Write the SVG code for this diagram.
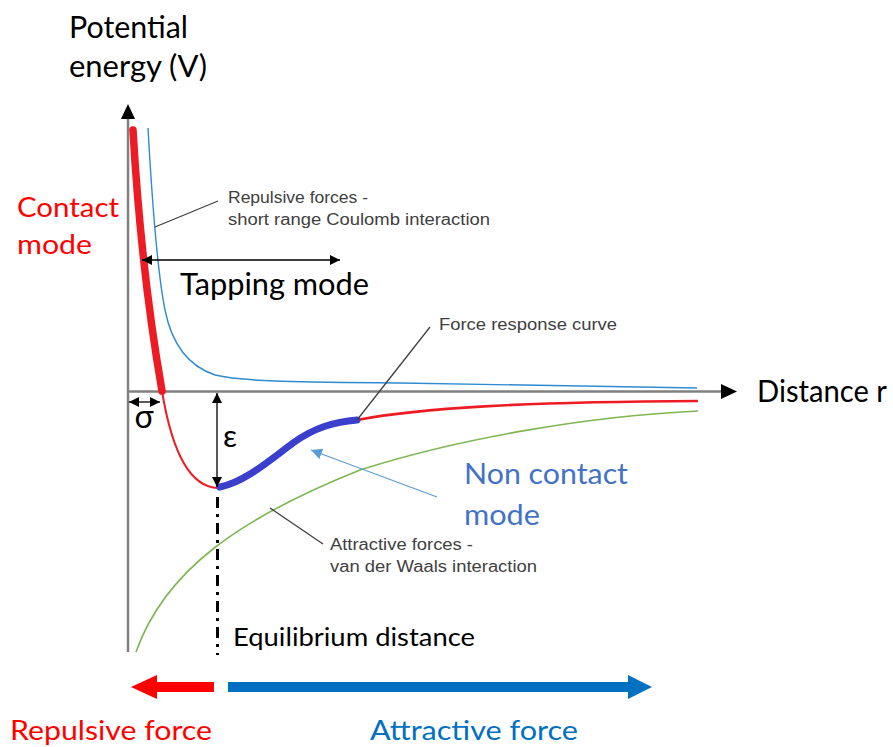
<svg xmlns="http://www.w3.org/2000/svg" width="893" height="747" viewBox="0 0 893 747">
<style>
.big{font-family:Lato,"Open Sans",sans-serif;}
.small{font-family:"Liberation Sans",Arial,sans-serif;font-size:16px;fill:#404040;}
.lead{stroke:#404040;stroke-width:1.3;fill:none;}
.dim{stroke:#000;stroke-width:1.3;fill:none;}
</style>
<defs>
<marker id="ah" viewBox="0 0 10 10" refX="10" refY="5" markerWidth="10" markerHeight="10" markerUnits="userSpaceOnUse" orient="auto-start-reverse"><path d="M0,0 L10,5 L0,10 Z" fill="#000"/></marker>
<marker id="ahb" viewBox="0 0 10 10" refX="10" refY="5" markerWidth="11" markerHeight="11" markerUnits="userSpaceOnUse" orient="auto"><path d="M0,0 L10,5 L0,10 Z" fill="#5B9BD5"/></marker>
</defs>
<rect width="893" height="747" fill="#fff"/>
<g id="axes">
<line x1="128" y1="652" x2="128" y2="116" stroke="#808080" stroke-width="2.5"/>
<path d="M128,104 L135,119 L121,119 Z" fill="#000"/>
<line x1="127" y1="391.5" x2="724" y2="391.5" stroke="#808080" stroke-width="2.5"/>
<path d="M737,391.5 L721,384 L721,399 Z" fill="#000"/>
</g>
<g id="curves">
<path d="M148,128 C152,200 157,270 165,310 C172,345 188,366 215,375 C245,382 300,382 400,383 C500,385 600,386 697,388" fill="none" stroke="#2E8BD0" stroke-width="1.4"/>
<path d="M136,652 C165,570 240,518 360,470 C460,438 590,416 698,411" fill="none" stroke="#7DB653" stroke-width="1.6"/>
<path d="M162,391 C170,440 185,487 218,488" fill="none" stroke="#ED1C24" stroke-width="2"/>
<path d="M357,420 C420,408 520,402 698,401" fill="none" stroke="#ED1C24" stroke-width="2.6"/>
<path d="M133,130 Q141,270 162,391" fill="none" stroke="#ED1C24" stroke-width="7.5" stroke-linecap="round"/>
<path d="M220,487 C245,482 270,460 293,443 C315,427 335,422 357,420" fill="none" stroke="#3A3FCC" stroke-width="7" stroke-linecap="round"/>
</g>
<g id="connectors">
<line class="lead" x1="155" y1="227" x2="218" y2="201"/>
<line class="lead" x1="357" y1="420" x2="430" y2="327"/>
<line class="lead" x1="270" y1="508" x2="323" y2="544"/>
<line x1="437" y1="497" x2="311" y2="450" stroke="#5B9BD5" stroke-width="1.2" marker-end="url(#ahb)"/>
<line class="dim" x1="142" y1="260" x2="340" y2="260" marker-start="url(#ah)" marker-end="url(#ah)"/>
<line class="dim" x1="129" y1="402" x2="160" y2="402" marker-start="url(#ah)" marker-end="url(#ah)"/>
<line class="dim" x1="217" y1="393" x2="217" y2="487" marker-start="url(#ah)" marker-end="url(#ah)"/>
<line x1="217.5" y1="497" x2="217.5" y2="655" stroke="#000" stroke-width="3" stroke-dasharray="11 6 3 6"/>
</g>
<g id="force-arrows">
<path d="M214,682 L157,682 L157,675 L131,687 L157,699 L157,692 L214,692 Z" fill="#FF0000"/>
<path d="M228,682 L628,682 L628,675 L652,687 L628,699 L628,692 L228,692 Z" fill="#0070C0"/>
</g>
<g id="labels">
<text class="big" x="69" y="38" font-size="30" fill="#000" textLength="119" lengthAdjust="spacingAndGlyphs">Potential</text>
<text class="big" x="69" y="77" font-size="30" fill="#000" textLength="138" lengthAdjust="spacingAndGlyphs">energy (V)</text>
<text class="big" x="17" y="217" font-size="27" fill="#FF0000" textLength="102" lengthAdjust="spacingAndGlyphs">Contact</text>
<text class="big" x="17" y="254" font-size="27" fill="#FF0000" textLength="75" lengthAdjust="spacingAndGlyphs">mode</text>
<text class="small" x="228" y="203" textLength="140" lengthAdjust="spacingAndGlyphs">Repulsive forces -</text>
<text class="small" x="228" y="225" textLength="262" lengthAdjust="spacingAndGlyphs">short range Coulomb interaction</text>
<text class="big" x="180" y="295" font-size="30" fill="#000" textLength="189" lengthAdjust="spacingAndGlyphs">Tapping mode</text>
<text class="small" x="439" y="330" textLength="178" lengthAdjust="spacingAndGlyphs">Force response curve</text>
<text class="big" x="757" y="402" font-size="30" fill="#000" textLength="130" lengthAdjust="spacingAndGlyphs">Distance r</text>
<text class="big" x="144" y="428" font-size="32" fill="#000" text-anchor="middle">σ</text>
<text class="big" x="230" y="447" font-size="31" fill="#000" text-anchor="middle">ε</text>
<text class="big" x="464" y="484" font-size="28" fill="#4472C4" textLength="164" lengthAdjust="spacingAndGlyphs">Non contact</text>
<text class="big" x="464" y="525" font-size="28" fill="#4472C4" textLength="76" lengthAdjust="spacingAndGlyphs">mode</text>
<text class="small" x="330" y="550" textLength="143" lengthAdjust="spacingAndGlyphs">Attractive forces -</text>
<text class="small" x="330" y="572" textLength="207" lengthAdjust="spacingAndGlyphs">van der Waals interaction</text>
<text class="big" x="233" y="646" font-size="25" fill="#000" textLength="242" lengthAdjust="spacingAndGlyphs">Equilibrium distance</text>
<text class="big" x="10" y="740" font-size="26" fill="#FF0000" textLength="202" lengthAdjust="spacingAndGlyphs">Repulsive force</text>
<text class="big" x="370" y="740" font-size="26" fill="#0070C0" textLength="208" lengthAdjust="spacingAndGlyphs">Attractive force</text>
</g>
</svg>
